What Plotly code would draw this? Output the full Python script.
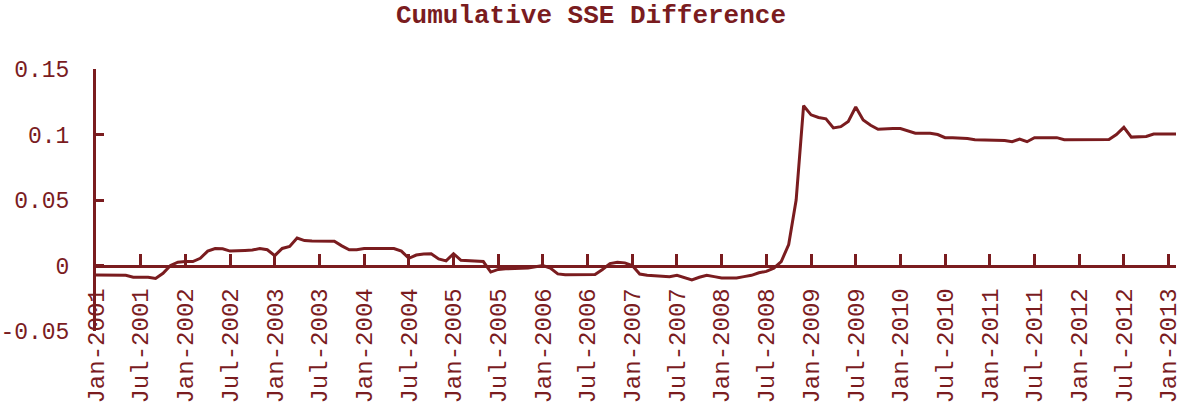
import numpy as np
import pandas as pd
import plotly.graph_objects as go

# monthly cumulative SSE difference, Jan-2001 .. Feb-2013
sse_diff = [
    -0.0073, -0.0073, -0.0073, -0.0073, -0.0075, -0.009, -0.009, -0.009, -0.0099, -0.006,
    0.0, 0.0025, 0.003, 0.003, 0.0055, 0.011, 0.013, 0.0128, 0.011, 0.011,
    0.0115, 0.0118, 0.013, 0.012, 0.0075, 0.013, 0.0145, 0.021, 0.019, 0.0187,
    0.0187, 0.0187, 0.0185, 0.015, 0.012, 0.012, 0.013, 0.013, 0.013, 0.013,
    0.013, 0.011, 0.0055, 0.008, 0.0088, 0.009, 0.005, 0.0035, 0.009, 0.004,
    0.0038, 0.0035, 0.003, -0.005, -0.003, -0.0025, -0.0022, -0.002, -0.002, -0.001,
    0.0, -0.002, -0.0064, -0.007, -0.007, -0.007, -0.007, -0.0068, -0.003, 0.0015,
    0.0025, 0.002, 0.0, -0.0065, -0.0075, -0.0078, -0.008, -0.0085, -0.0075, -0.009,
    -0.011, -0.009, -0.0075, -0.0085, -0.0095, -0.0095, -0.0095, -0.0085, -0.0075, -0.0055,
    -0.0045, -0.002, 0.003, 0.016, 0.05, 0.122, 0.115, 0.113, 0.112, 0.105,
    0.106, 0.11, 0.121, 0.111, 0.107, 0.104, 0.1045, 0.1045, 0.1045, 0.103,
    0.101, 0.101, 0.101, 0.1, 0.0976, 0.0975, 0.0972, 0.097, 0.096, 0.096,
    0.096, 0.096, 0.0955, 0.0945, 0.0965, 0.0945, 0.0976, 0.0976, 0.0976, 0.0976,
    0.096, 0.096, 0.096, 0.096, 0.096, 0.096, 0.0962, 0.1, 0.1055, 0.098,
    0.0985, 0.0985, 0.1004, 0.1004, 0.1004, 0.1004,
]

months = pd.date_range("2001-01-01", periods=len(sse_diff), freq="MS")
month_labels = [d.strftime("%b-%Y") for d in months]
x_idx = np.arange(len(sse_diff))

tick_idx = list(range(0, 145, 6))
tick_text = [month_labels[i] for i in tick_idx]

y_ticks = [-0.05, 0, 0.05, 0.1, 0.15]
y_text = ["-0.05", "0", "0.05", "0.1", "0.15"]

dark_red = "#7a1c1f"
mono = "Liberation Mono"

fig = go.Figure()
fig.add_trace(go.Scatter(x=x_idx, y=sse_diff, mode="lines",
                         line=dict(color=dark_red, width=3), hoverinfo="skip"))
# invisible copy so the label axis gets drawn
fig.add_trace(go.Scatter(x=x_idx, y=sse_diff, mode="lines", xaxis="x2",
                         line=dict(width=0), hoverinfo="skip", showlegend=False))

fig.update_layout(
    width=1182, height=407,
    margin=dict(l=96, r=6, t=69, b=76),
    paper_bgcolor="white", plot_bgcolor="white",
    showlegend=False,
    title=dict(text="<b>Cumulative SSE Difference</b>", x=0.5, xanchor="center",
               y=0.967, yanchor="middle",
               font=dict(family=mono, size=26, color=dark_red)),
    xaxis=dict(range=[0, 145], anchor="free", position=0.25, automargin=False,
               showline=True, linecolor=dark_red, linewidth=3,
               tickmode="array", tickvals=tick_idx, showticklabels=False,
               ticks="inside", ticklen=11, tickwidth=3, tickcolor=dark_red,
               showgrid=False, zeroline=False),
    xaxis2=dict(range=[0, 145], overlaying="x", anchor="free", position=0.185,
                automargin=False, showline=False, ticklabeloverflow="allow",
                tickmode="array", tickvals=tick_idx, ticktext=tick_text,
                tickangle=-90, ticks="", showgrid=False, zeroline=False,
                tickfont=dict(family=mono, size=24, color=dark_red)),
    yaxis=dict(range=[-0.05, 0.15], tickmode="array", tickvals=y_ticks, ticktext=y_text,
               automargin=False,
               showline=True, linecolor=dark_red, linewidth=3,
               ticks="inside", ticklen=8, tickwidth=3, tickcolor=dark_red,
               ticklabelstandoff=19,
               showgrid=False, zeroline=False,
               tickfont=dict(family=mono, size=23, color=dark_red)),
)

# drop the default body margin so the figure sits at the window corner
fig.write_html("out.html", config={"displayModeBar": False},
               post_script="document.body.style.margin='0';")
